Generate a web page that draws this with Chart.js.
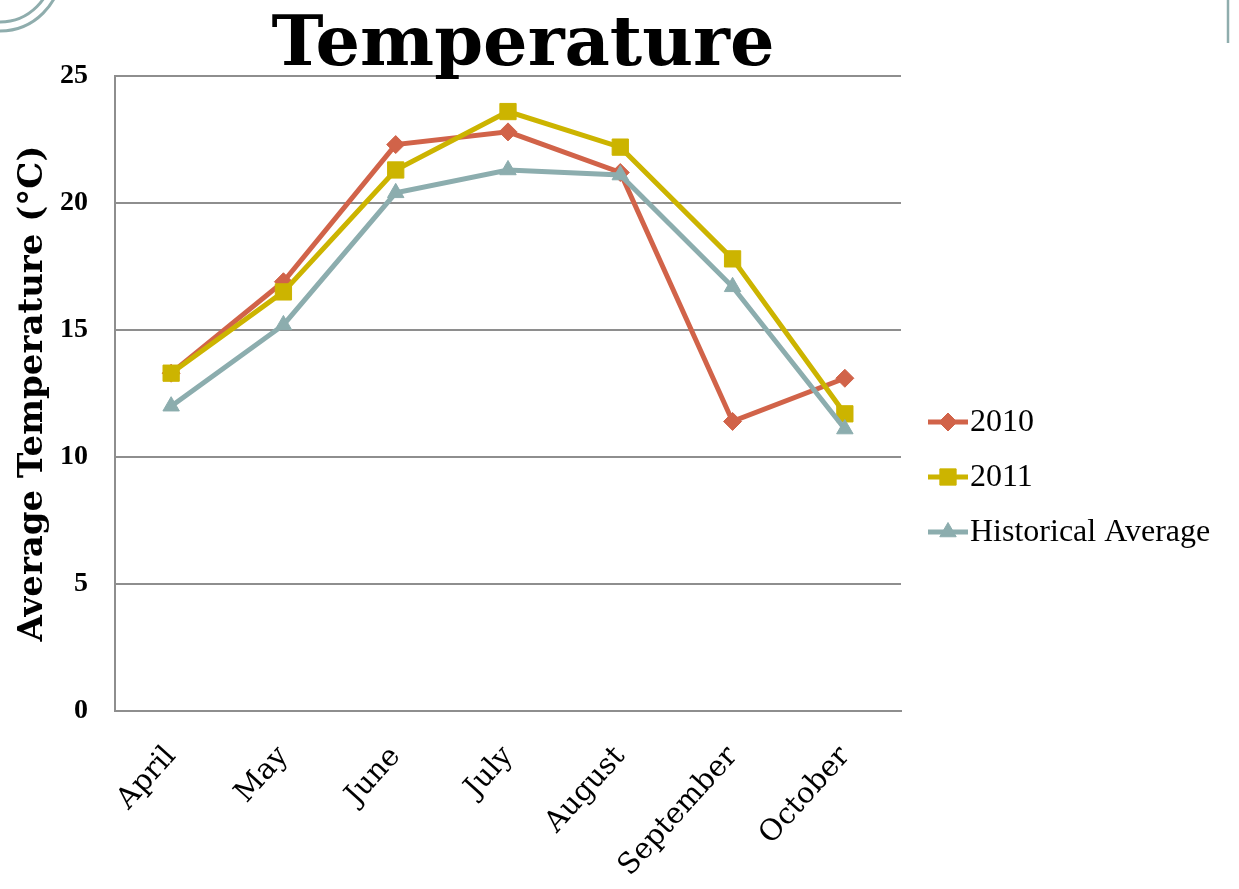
<!DOCTYPE html>
<html>
<head>
<meta charset="utf-8">
<title>Temperature</title>
<script src="https://cdn.jsdelivr.net/npm/chart.js@4.4.1/dist/chart.umd.min.js"></script>
<style>
  html, body { margin: 0; padding: 0; background: #ffffff; overflow: hidden; }
  #wrap { position: relative; width: 1239px; height: 889px; }
</style>
</head>
<body>
<div id="wrap"><canvas id="chart" width="1239" height="889"></canvas></div>
<script>
// Monthly average temperatures (°C)
const months = ['April', 'May', 'June', 'July', 'August', 'September', 'October'];
const temps2010 = [13.3, 16.9, 22.3, 22.8, 21.2, 11.4, 13.1];
const temps2011 = [13.3, 16.5, 21.3, 23.6, 22.2, 17.8, 11.7];
const historicalAvg = [12.0, 15.2, 20.4, 21.3, 21.1, 16.7, 11.1];
const seriesNames = ['2010', '2011', 'Historical Average'];
const yTickValues = [0, 5, 10, 15, 20, 25];

const chartTitle = 'Temperature';
const yAxisTitle = 'Average Temperature (°C)';

const COLORS = { y2010: '#D16349', y2011: '#CCB400', hist: '#8CADAE' };
const ACCENT = '#8FADAD';
const GRID = '#8E8E8E';

// Slide-style ornaments: double ring in the corner and a thin rule on the right
const ornaments = {
  id: 'ornaments',
  beforeDraw(chart) {
    const ctx = chart.ctx;
    ctx.save();
    ctx.fillStyle = '#ffffff';
    ctx.fillRect(0, 0, chart.width, chart.height);
    ctx.strokeStyle = ACCENT;
    ctx.lineWidth = 3;
    [61, 52].forEach(r => {
      ctx.beginPath();
      ctx.arc(0, -30, r, 0, Math.PI);
      ctx.stroke();
    });
    ctx.lineWidth = 2.5;
    ctx.beginPath();
    ctx.moveTo(1228, 0);
    ctx.lineTo(1228, 43);
    ctx.stroke();
    ctx.restore();
  }
};

// Title text above the plot
const titleText = {
  id: 'titleText',
  afterDraw(chart) {
    const ctx = chart.ctx;
    const area = chart.chartArea;
    ctx.save();
    ctx.fillStyle = '#000000';
    ctx.font = 'bold 70px "DejaVu Serif", "Liberation Serif", serif';
    ctx.textAlign = 'center';
    ctx.textBaseline = 'alphabetic';
    ctx.fillText(chartTitle, (area.left + area.right) / 2 + 15, 65);
    ctx.restore();
  }
};

// Legend with line-and-marker samples, drawn to the right of the plot
const lineLegend = {
  id: 'lineLegend',
  afterDraw(chart) {
    const ctx = chart.ctx;
    const area = chart.chartArea;
    const x0 = area.right + 27;
    const sampleW = 40;
    const rowH = 55;
    const y0 = area.top + 346;
    ctx.save();
    chart.data.datasets.forEach((ds, i) => {
      const y = y0 + i * rowH;
      ctx.strokeStyle = ds.borderColor;
      ctx.lineWidth = ds.borderWidth;
      ctx.beginPath();
      ctx.moveTo(x0, y);
      ctx.lineTo(x0 + sampleW, y);
      ctx.stroke();
      ctx.fillStyle = ds.pointBackgroundColor;
      ctx.strokeStyle = ds.pointBorderColor;
      ctx.lineWidth = 1;
      Chart.helpers.drawPoint(ctx, {
        pointStyle: ds.pointStyle,
        radius: ds.pointRadius,
        rotation: 0,
        borderWidth: 1
      }, x0 + sampleW / 2, y);
      ctx.fillStyle = '#000000';
      ctx.font = '32px "Liberation Serif", "Times New Roman", serif';
      ctx.textAlign = 'left';
      ctx.textBaseline = 'middle';
      ctx.fillText(ds.label, x0 + sampleW + 2, y + 1);
    });
    ctx.restore();
  }
};

function series(label, data, color, style, radius, order) {
  return {
    label, data, order,
    borderColor: color,
    backgroundColor: color,
    borderWidth: 5,
    pointStyle: style,
    pointRadius: radius,
    pointHoverRadius: radius,
    pointBackgroundColor: color,
    pointBorderColor: color,
    pointBorderWidth: 1,
    tension: 0,
    fill: false
  };
}

const datasets = [
  series(seriesNames[0], temps2010, COLORS.y2010, 'rectRot', 9, 3),
  series(seriesNames[1], temps2011, COLORS.y2011, 'rect', 11.5, 2),
  series(seriesNames[2], historicalAvg, COLORS.hist, 'triangle', 9.5, 1)
];

new Chart(document.getElementById('chart'), {
  type: 'line',
  data: { labels: months, datasets },
  options: {
    responsive: false,
    animation: false,
    devicePixelRatio: 1,
    layout: { padding: { left: 0, right: 338, top: 76, bottom: 0 } },
    plugins: {
      legend: { display: false },
      title: { display: false },
      tooltip: { enabled: false }
    },
    scales: {
      x: {
        offset: true,
        grid: { display: false, drawTicks: false },
        border: { display: true, color: GRID, width: 2 },
        ticks: {
          color: '#000000',
          font: { family: '"DejaVu Serif", "Liberation Serif", serif', size: 29 },
          maxRotation: 48,
          minRotation: 48,
          padding: 29,
          autoSkip: false
        },
        afterFit(scale) { scale.height = 178; }
      },
      y: {
        min: 0,
        max: 25,
        afterBuildTicks(scale) { scale.ticks = yTickValues.map(v => ({ value: v })); },
        grid: { color: GRID, lineWidth: 2, drawTicks: false },
        border: { display: true, color: GRID, width: 2 },
        ticks: {
          color: '#000000',
          font: { family: '"Liberation Serif", "Times New Roman", serif', weight: 'bold', size: 28 },
          padding: 27
        },
        title: {
          display: true,
          text: yAxisTitle,
          color: '#000000',
          font: { family: '"DejaVu Serif", "Liberation Serif", serif', weight: 'bold', size: 34 },
          padding: { top: 13, bottom: 0 }
        },
        afterFit(scale) { scale.width = 115; }
      }
    }
  },
  plugins: [ornaments, titleText, lineLegend]
});
</script>
</body>
</html>
